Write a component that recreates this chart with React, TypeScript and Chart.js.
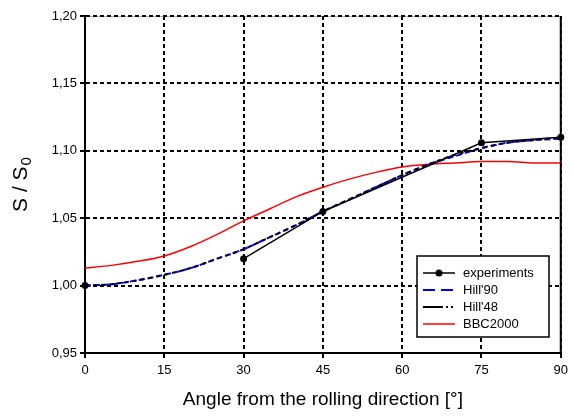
import React, { useEffect, useRef } from "react";
import { Chart, registerables } from "chart.js";

Chart.register(...registerables);

const FONT = "'Liberation Sans', Arial, sans-serif";

const xTicks = [0, 15, 30, 45, 60, 75, 90];
const yTicks = [0.95, 1.0, 1.05, 1.1, 1.15, 1.2];

const expAngles = [0, 30, 45, 75, 90];
const expValues = [1.0, 1.02, 1.055, 1.106, 1.11];

const modelAngles = [0, 5, 10, 15, 20, 25, 30, 35, 40, 45, 50, 55, 60, 65, 70, 75, 80, 85, 90];
const hill90Values = [1.0, 1.001, 1.004, 1.008, 1.013, 1.02, 1.027, 1.036, 1.045, 1.055, 1.064, 1.073, 1.082, 1.09, 1.096, 1.102, 1.106, 1.108, 1.109];
const hill48Values = [1.0, 1.001, 1.004, 1.008, 1.013, 1.02, 1.027, 1.036, 1.045, 1.055, 1.064, 1.073, 1.082, 1.09, 1.097, 1.102, 1.106, 1.108, 1.11];
const bbcValues = [1.013, 1.015, 1.018, 1.022, 1.029, 1.038, 1.048, 1.057, 1.066, 1.073, 1.079, 1.084, 1.088, 1.09, 1.091, 1.092, 1.092, 1.091, 1.091];

const legendLabels = ["experiments", "Hill'90", "Hill'48", "BBC2000"];

function pts(xs: number[], ys: number[]) {
  return xs.map((x, i) => ({ x, y: ys[i] }));
}

const framePlugin = {
  id: "frame",
  beforeDraw(chart: any) {
    const { ctx, chartArea: a } = chart;
    ctx.save();
    ctx.strokeStyle = "#b0b0b0";
    ctx.lineWidth = 1;
    ctx.beginPath();
    ctx.moveTo(a.left, a.top + 0.5);
    ctx.lineTo(a.right, a.top + 0.5);
    ctx.stroke();
    ctx.restore();
  },
  beforeDatasetsDraw(chart: any) {
    const { ctx, chartArea: a } = chart;
    ctx.save();
    ctx.setLineDash([]);
    ctx.strokeStyle = "#000";
    ctx.lineWidth = 2;
    ctx.beginPath();
    ctx.moveTo(a.left, a.top);
    ctx.lineTo(a.left, a.bottom);
    ctx.lineTo(a.right, a.bottom);
    ctx.moveTo(a.right, a.top);
    ctx.lineTo(a.right, a.bottom);
    ctx.stroke();
    ctx.restore();
  },
  afterDraw(chart: any) {
    const { ctx, chartArea: a } = chart;
    ctx.save();
    // axis titles
    ctx.fillStyle = "#000";
    ctx.font = `19px ${FONT}`;
    ctx.textAlign = "center";
    ctx.textBaseline = "middle";
    ctx.fillText("Angle from the rolling direction [°]", (a.left + a.right) / 2, 400);

    ctx.translate(20, 185);
    ctx.rotate(-Math.PI / 2);
    const main = "S / S";
    ctx.font = `21px ${FONT}`;
    const w1 = ctx.measureText(main).width;
    ctx.font = `15px ${FONT}`;
    const w2 = ctx.measureText("0").width;
    const start = -(w1 + w2) / 2;
    ctx.textAlign = "left";
    ctx.textBaseline = "alphabetic";
    ctx.font = `21px ${FONT}`;
    ctx.fillText(main, start, 7);
    ctx.font = `15px ${FONT}`;
    ctx.fillText("0", start + w1 + 1, 11);
    ctx.restore();

    // legend
    ctx.save();
    const bx = 417, by = 256, bw = 132, bh = 81;
    ctx.fillStyle = "#fff";
    ctx.fillRect(bx, by, bw, bh);
    ctx.strokeStyle = "#000";
    ctx.lineWidth = 1.5;
    ctx.strokeRect(bx, by, bw, bh);
    const rows = [273, 290, 307, 324];
    const x0 = 423, x1 = 455;
    ctx.font = `13px ${FONT}`;
    ctx.textBaseline = "middle";
    ctx.textAlign = "left";
    legendLabels.forEach((lab, i) => {
      const y = rows[i];
      ctx.beginPath();
      ctx.setLineDash([]);
      if (i === 0) {
        ctx.strokeStyle = "#000";
        ctx.lineWidth = 1.5;
        ctx.moveTo(x0, y);
        ctx.lineTo(x1, y);
        ctx.stroke();
        ctx.beginPath();
        ctx.fillStyle = "#000";
        ctx.arc((x0 + x1) / 2, y, 3.5, 0, Math.PI * 2);
        ctx.fill();
      } else if (i === 1) {
        ctx.strokeStyle = "#0000ff";
        ctx.lineWidth = 2;
        ctx.setLineDash([12, 6]);
        ctx.moveTo(x0, y);
        ctx.lineTo(x1, y);
        ctx.stroke();
      } else if (i === 2) {
        ctx.strokeStyle = "#000";
        ctx.lineWidth = 2;
        ctx.setLineDash([20, 3, 2, 3, 2, 3]);
        ctx.moveTo(x0, y);
        ctx.lineTo(x1, y);
        ctx.stroke();
      } else {
        ctx.strokeStyle = "#ff0000";
        ctx.lineWidth = 1.5;
        ctx.moveTo(x0, y);
        ctx.lineTo(x1, y);
        ctx.stroke();
      }
      ctx.setLineDash([]);
      ctx.fillStyle = "#000";
      ctx.fillText(lab, 463, y + 0.5);
    });
    ctx.restore();
  },
};

const gridOpts: any = {
  color: "#000",
  lineWidth: 2,
  tickBorderDash: [],
  tickColor: "#000",
  tickLength: 5,
  tickWidth: 2,
};

export default function App() {
  const ref = useRef<HTMLCanvasElement>(null);

  useEffect(() => {
    document.body.style.margin = "0";
    const canvas = ref.current;
    if (!canvas) return;
    const chart = new Chart(canvas, {
      type: "scatter",
      data: {
        datasets: [
          {
            label: legendLabels[0],
            data: pts(expAngles, expValues),
            showLine: true,
            borderColor: "#000",
            backgroundColor: "#000",
            borderWidth: 1.5,
            pointRadius: 3.5,
            pointBackgroundColor: "#000",
            pointBorderWidth: 0,
            order: 0,
            clip: false,
            segment: {
              borderColor: (c: any) => (c.p0DataIndex === 0 ? "rgba(0,0,0,0)" : "#000"),
            },
          } as any,
          {
            label: legendLabels[1],
            data: pts(modelAngles, hill90Values),
            showLine: true,
            borderColor: "#0000ff",
            borderWidth: 2,
            borderDash: [6, 3],
            pointRadius: 0,
            cubicInterpolationMode: "monotone",
            order: 2,
          },
          {
            label: legendLabels[2],
            data: pts(modelAngles, hill48Values),
            showLine: true,
            borderColor: "#000",
            borderWidth: 2,
            borderDash: [4, 4],
            pointRadius: 0,
            cubicInterpolationMode: "monotone",
            order: 1,
          },
          {
            label: legendLabels[3],
            data: pts(modelAngles, bbcValues),
            showLine: true,
            borderColor: "#ff0000",
            borderWidth: 1.5,
            pointRadius: 0,
            cubicInterpolationMode: "monotone",
            order: 3,
          },
        ],
      },
      options: {
        animation: false,
        responsive: false,
        devicePixelRatio: 1,
        layout: { padding: { top: 16, right: 8, left: 0, bottom: 0 } },
        plugins: {
          legend: { display: false },
          tooltip: { enabled: false },
        },
        scales: {
          x: {
            type: "linear",
            min: 0,
            max: 90,
            afterFit: (s: any) => {
              s.height = 66;
            },
            afterBuildTicks: (s: any) => {
              s.ticks = xTicks.map((v) => ({ value: v }));
            },
            ticks: {
              color: "#000",
              font: { family: FONT, size: 13 },
              padding: 5,
              maxRotation: 0,
            },
            grid: gridOpts,
            border: { display: true, color: "#000", width: 2, dash: [4, 3] } as any,
          },
          y: {
            type: "linear",
            min: 0.95,
            max: 1.2,
            afterFit: (s: any) => {
              s.width = 85;
            },
            afterBuildTicks: (s: any) => {
              s.ticks = yTicks.map((v) => ({ value: v }));
            },
            ticks: {
              color: "#000",
              font: { family: FONT, size: 13 },
              padding: 3,
              callback: (v: any) => Number(v).toFixed(2).replace(".", ","),
            },
            grid: gridOpts,
            border: { display: true, color: "#000", width: 2, dash: [4, 3] } as any,
          },
        },
      },
      plugins: [framePlugin],
    });
    return () => chart.destroy();
  }, []);

  return (
    <div style={{ width: 573, height: 419 }}>
      <canvas ref={ref} width={573} height={419} style={{ display: "block" }} />
    </div>
  );
}
